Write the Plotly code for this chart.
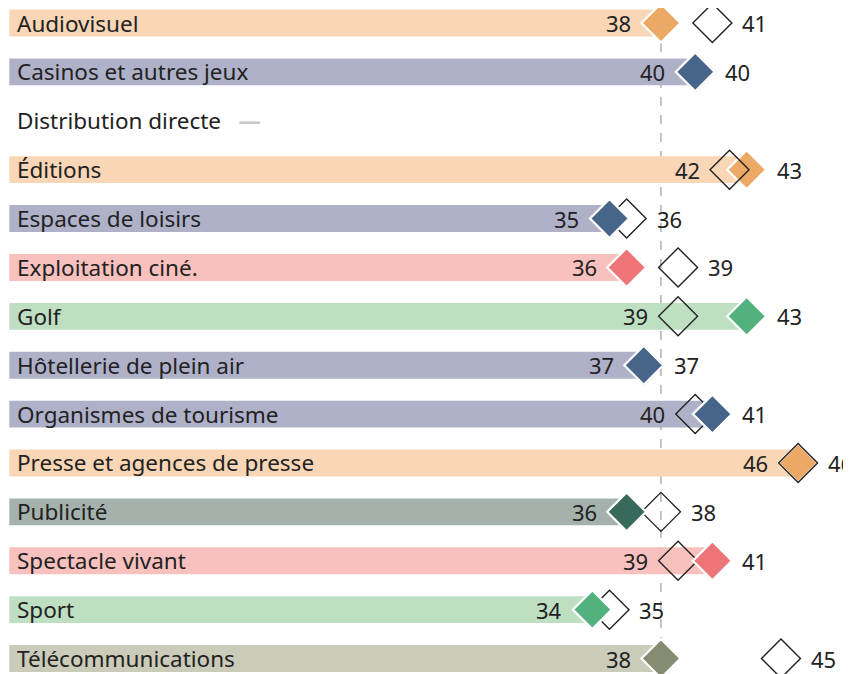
import plotly.graph_objects as go

categories = ["Audiovisuel", "Casinos et autres jeux", "Distribution directe", "Éditions",
              "Espaces de loisirs", "Exploitation ciné.", "Golf", "Hôtellerie de plein air",
              "Organismes de tourisme", "Presse et agences de presse", "Publicité",
              "Spectacle vivant", "Sport", "Télécommunications"]
bar_values = [38, 40, None, 43, 35, 36, 43, 37, 41, 46, 36, 41, 34, 38]
hollow_values = [41, 40, None, 42, 36, 39, 39, 37, 40, 46, 38, 39, 35, 45]
groups = ["orange", "blue", None, "orange", "blue", "red", "green", "blue", "blue",
          "orange", "teal", "red", "green", "olive"]
reference_value = 38

bar_colors = {"orange": "#F9D6B5", "blue": "#AFB1C9", "red": "#F8C1BE",
              "green": "#BFDFC3", "teal": "#A4B2AB", "olive": "#CBCBB9"}
dot_colors = {"orange": "#ECA865", "blue": "#476489", "red": "#EE7577",
              "green": "#53B17F", "teal": "#376A5D", "olive": "#848D6F"}

FONT = "Noto Sans"
TXT = "#222222"
ypos = list(range(len(categories)))

fig = go.Figure()

fig.add_trace(go.Bar(
    y=ypos, x=[v if v is not None else 0 for v in bar_values], orientation="h",
    marker=dict(color=[bar_colors.get(g, "rgba(0,0,0,0)") for g in groups], line=dict(width=0)),
    width=0.55, hoverinfo="skip", showlegend=False))

def dot_trace(group):
    xs = [v for v, g in zip(bar_values, groups) if g == group]
    ys = [y for y, g in zip(ypos, groups) if g == group]
    return go.Scatter(x=xs, y=ys, mode="markers", showlegend=False, hoverinfo="skip",
                      marker=dict(symbol="diamond", size=30, color=dot_colors[group],
                                  line=dict(color="white", width=2.2)))

fig.add_trace(dot_trace("orange"))
hx = [v for v in hollow_values if v is not None]
hy = [y for y, v in zip(ypos, hollow_values) if v is not None]
fig.add_trace(go.Scatter(x=hx, y=hy, mode="markers", showlegend=False, hoverinfo="skip",
                         marker=dict(symbol="diamond-open", size=30, color="#222222",
                                     line=dict(width=1.4))))
for g in ["blue", "red", "green", "teal", "olive"]:
    fig.add_trace(dot_trace(g))

annotations = []
for y, cat, b, h in zip(ypos, categories, bar_values, hollow_values):
    label = cat
    if b is None:
        label = cat + "   <b><span style='color:#C8C8C8'>—</span></b>"
    annotations.append(dict(x=0, y=y, text=label, xanchor="left", yanchor="middle",
                            xshift=6, showarrow=False, font=dict(family=FONT, size=22.5, color=TXT)))
    if b is None:
        continue
    lo, hi = min(b, h), max(b, h)
    annotations.append(dict(x=lo, y=y, text=str(lo), xanchor="right", yanchor="middle",
                            xshift=-28, showarrow=False, font=dict(family=FONT, size=22, color=TXT)))
    annotations.append(dict(x=hi, y=y, text=str(hi), xanchor="left", yanchor="middle",
                            xshift=28, showarrow=False, font=dict(family=FONT, size=22, color=TXT)))

fig.add_shape(type="line", x0=reference_value, x1=reference_value, y0=0, y1=1, yref="paper",
              line=dict(color="#8A8A8A", width=1, dash="dash"), layer="below")

fig.update_layout(
    width=851, height=674, margin=dict(l=0, r=0, t=0, b=0),
    paper_bgcolor="white", plot_bgcolor="white", showlegend=False,
    barmode="overlay", annotations=annotations,
    xaxis=dict(range=[-0.076, 49.55], visible=False, fixedrange=True),
    yaxis=dict(range=[13.48, -0.307], visible=False, fixedrange=True),
)

fig.write_html("out.html")
